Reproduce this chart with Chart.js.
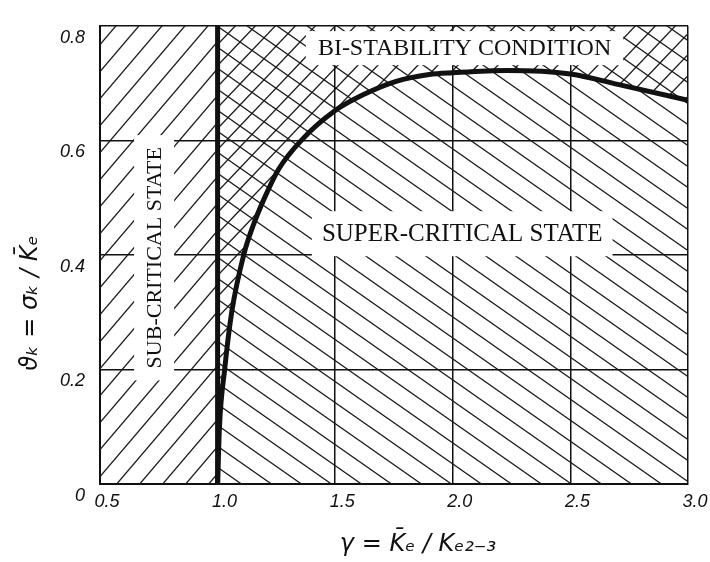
<!DOCTYPE html>
<html>
<head>
<meta charset="utf-8">
<title>Stability regions</title>
<script src="https://cdn.jsdelivr.net/npm/chart.js@4.4.1/dist/chart.umd.min.js"></script>
<style>
  html, body { margin: 0; padding: 0; background: #fff; }
  canvas { display: block; }
</style>
</head>
<body>
<canvas id="chart" width="710" height="562"></canvas>
<script>
// Boundary of the super-critical region
const boundaryGamma = [1.0, 1.008, 1.03, 1.06, 1.111, 1.15, 1.2, 1.26, 1.356, 1.5, 1.616, 1.759, 1.9, 2.0, 2.23, 2.5, 2.72, 3.0];
const boundaryNu    = [0, 0.1, 0.2, 0.3, 0.4, 0.45, 0.5, 0.55, 0.6, 0.652, 0.679, 0.703, 0.715, 0.718, 0.722, 0.716, 0.696, 0.67];

// Critical line gamma = 1
const criticalGamma = [1.0, 1.0];
const criticalNu    = [0, 0.8];

// Sub-critical strip (gamma below 1)
const subGamma = [0.5, 1.0];
const subNu    = [0.8, 0.8];

const xTickLabels = ['0.5', '1.0', '1.5', '2.0', '2.5', '3.0'];
const yTickLabels = ['0', '0.2', '0.4', '0.6', '0.8'];

const regionNames = ['SUB-CRITICAL STATE', 'SUPER-CRITICAL STATE', 'BI-STABILITY CONDITION'];

const INK = '#111';

const toPoints = (xs, ys) => xs.map((x, i) => ({ x: x, y: ys[i] }));

/**
 * Builds a repeating hatch pattern. Each family is a set of parallel lines,
 * dx / dy = horizontal / vertical spacing, dir '/' or '\'.
 */
function hatch(ctx, w, h, families) {
    const c = document.createElement('canvas');
    c.width = w;
    c.height = h;
    const g = c.getContext('2d');
    g.strokeStyle = '#1a1a1a';
    g.lineWidth = 1.3;
    families.forEach(f => {
        const run = f.dx / f.dy;
        for (let k = -12; k <= 12; k++) {
            const x0 = k * f.dx;
            g.beginPath();
            if (f.dir === '/') {
                g.moveTo(x0 - 4 * run, h + 4);
                g.lineTo(x0 + (h + 4) * run, -4);
            } else {
                g.moveTo(x0 - 4 * run, -4);
                g.lineTo(x0 + (h + 4) * run, h + 4);
            }
            g.stroke();
        }
    });
    return ctx.createPattern(c, 'repeat');
}

// White-boxed region captions, drawn over the hatching but under the curves
const regionLabels = {
    id: 'regionLabels',
    beforeDatasetsDraw(chart, args, opts) {
        const { ctx, scales: { x, y } } = chart;
        opts.items.forEach(item => {
            ctx.save();
            ctx.font = item.size + 'px "Liberation Serif", "Times New Roman", serif';
            const w = ctx.measureText(item.text).width;
            ctx.translate(x.getPixelForValue(item.x), y.getPixelForValue(item.y));
            if (item.rotate) ctx.rotate(-Math.PI / 2);
            ctx.fillStyle = '#fff';
            ctx.fillRect(-w / 2 - item.padX, -item.size / 2 - item.padY,
                         w + 2 * item.padX, item.size + 2 * item.padY);
            ctx.fillStyle = INK;
            ctx.textAlign = 'center';
            ctx.textBaseline = 'middle';
            ctx.fillText(item.text, 0, 1);
            ctx.restore();
        });
    }
};

const ctx = document.getElementById('chart').getContext('2d');
const subHatch = hatch(ctx, 23, 27, [{ dir: '/', dx: 23, dy: 27 }]);
const superHatch = hatch(ctx, 30, 21, [{ dir: '\\', dx: 30, dy: 21 }]);
const crossHatch = hatch(ctx, 60, 21, [{ dir: '\\', dx: 30, dy: 21 }, { dir: '/', dx: 20, dy: 21 }]);

const tickFont = { family: '"Liberation Sans", Arial, sans-serif', style: 'italic', size: 18 };
const titleFont = { family: '"DejaVu Sans", sans-serif', style: 'italic', size: 24 };

new Chart(ctx, {
    type: 'line',
    data: {
        datasets: [
            {
                label: 'sub-critical',
                data: toPoints(subGamma, subNu),
                fill: 'origin',
                backgroundColor: subHatch,
                borderColor: 'rgba(0,0,0,0)',
                borderWidth: 0,
                pointRadius: 0
            },
            {
                label: 'bi-stability',
                data: toPoints(boundaryGamma, boundaryNu),
                fill: 'end',
                backgroundColor: crossHatch,
                borderColor: 'rgba(0,0,0,0)',
                borderWidth: 0,
                pointRadius: 0,
                cubicInterpolationMode: 'monotone'
            },
            {
                label: 'super-critical',
                data: toPoints(boundaryGamma, boundaryNu),
                fill: 'origin',
                backgroundColor: superHatch,
                borderColor: INK,
                borderWidth: 5,
                pointRadius: 0,
                cubicInterpolationMode: 'monotone'
            },
            {
                label: 'gamma = 1',
                data: toPoints(criticalGamma, criticalNu),
                fill: false,
                borderColor: INK,
                borderWidth: 5,
                pointRadius: 0
            }
        ]
    },
    options: {
        responsive: false,
        animation: false,
        layout: { padding: { top: 14, right: 22, left: 0, bottom: 0 } },
        plugins: {
            legend: { display: false },
            tooltip: { enabled: false },
            filler: { drawTime: 'beforeDatasetsDraw' },
            regionLabels: {
                items: [
                    { text: regionNames[0], x: 0.73, y: 0.395, size: 22, rotate: true, padX: 12, padY: 9 },
                    { text: regionNames[1], x: 2.04, y: 0.437, size: 25, padX: 10, padY: 10 },
                    { text: regionNames[2], x: 2.05, y: 0.761, size: 24, padX: 12, padY: 5 }
                ]
            }
        },
        scales: {
            x: {
                type: 'linear',
                min: 0.5,
                max: 3.0,
                afterFit: s => { s.height = 78; },
                ticks: {
                    stepSize: 0.5,
                    padding: 7,
                    labelOffset: 7,
                    color: INK,
                    font: tickFont,
                    callback: (v, i) => xTickLabels[i]
                },
                grid: { color: INK, lineWidth: 1.5, drawTicks: false },
                border: { color: INK, width: 2 },
                title: {
                    display: true,
                    text: '\u2003\u2003\u03b3 = K\u0304\u2091 / K\u2091\u2082\u208b\u2083',
                    color: INK,
                    font: titleFont,
                    padding: { top: 0, bottom: 3 }
                }
            },
            y: {
                type: 'linear',
                min: 0,
                max: 0.8,
                afterFit: s => { s.width = 100; },
                ticks: {
                    stepSize: 0.2,
                    padding: 15,
                    labelOffset: 12,
                    color: INK,
                    font: tickFont,
                    callback: (v, i) => yTickLabels[i]
                },
                grid: { color: INK, lineWidth: 1.5, drawTicks: false },
                border: { color: INK, width: 2 },
                title: {
                    display: true,
                    text: '\u03d1\u2096 = \u03c3\u2096 / K\u0304\u2091\u2003\u2003\u2003\u2003',
                    color: INK,
                    font: titleFont,
                    padding: { top: 16, bottom: 0 }
                }
            }
        }
    },
    plugins: [regionLabels]
});
</script>
</body>
</html>
